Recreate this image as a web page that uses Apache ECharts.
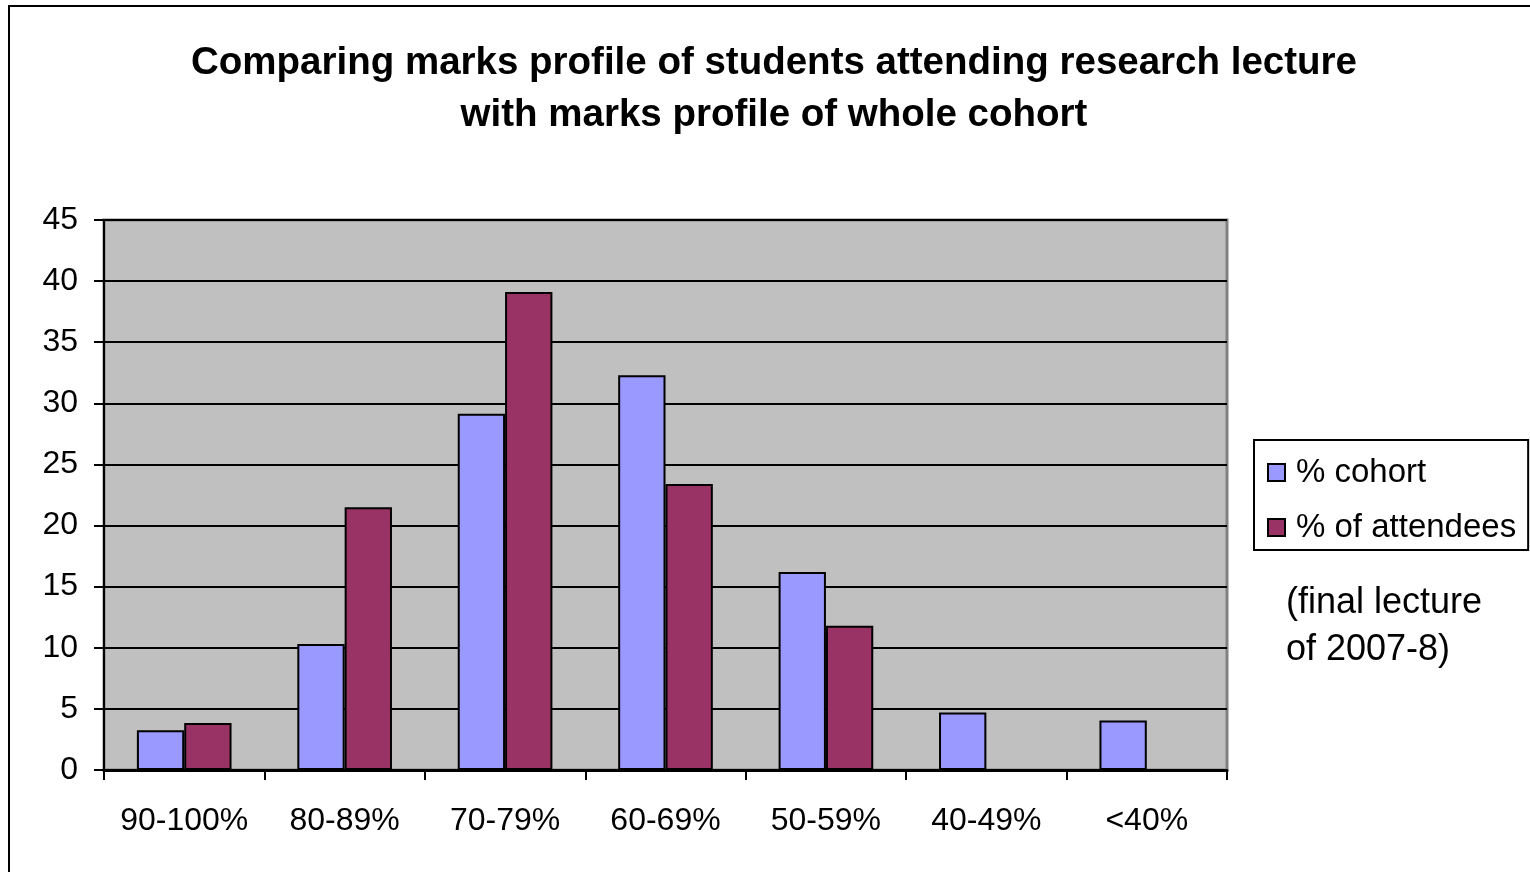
<!DOCTYPE html>
<html>
<head>
<meta charset="utf-8">
<title>Marks profile</title>
<style>
  html, body { margin: 0; padding: 0; background: #fff; }
  #main { width: 1530px; height: 872px; }
</style>
</head>
<body>
<div id="main"></div>
<script src="https://cdn.jsdelivr.net/npm/echarts@6/dist/echarts.min.js"></script>
<script>
var categories = ['90-100%', '80-89%', '70-79%', '60-69%', '50-59%', '40-49%', '<40%'];
var cohort = [3.25, 10.3, 29.15, 32.3, 16.2, 4.7, 4.05];
var attendees = [3.85, 21.5, 39.1, 23.4, 11.8, 0, 0];
var seriesNames = ['% cohort', '% of attendees'];
var titleText = 'Comparing marks profile of students attending research lecture\nwith marks profile of whole cohort';
var noteText = '(final lecture\nof 2007-8)';

var font = '"Liberation Sans", Arial, sans-serif';
var chart = echarts.init(document.getElementById('main'));

chart.setOption({
    animation: false,
    textStyle: { fontFamily: font },
    title: {
        text: titleText,
        left: 769,
        textAlign: 'center',
        top: 32,
        textStyle: { fontSize: 38.5, fontWeight: 'bold', color: '#000', lineHeight: 52, fontFamily: font }
    },
    legend: {
        orient: 'vertical',
        left: 1254,
        top: 440,
        padding: [16, 12, 6, 13],
        itemGap: 22,
        itemWidth: 17,
        itemHeight: 17,
        icon: 'rect',
        borderColor: '#000',
        borderWidth: 2,
        backgroundColor: '#fff',
        textStyle: { fontSize: 33, color: '#000', fontFamily: font, padding: [0, 0, 0, 6] },
        itemStyle: { borderColor: '#000', borderWidth: 2 },
        data: seriesNames
    },
    grid: {
        left: 104,
        top: 220,
        width: 1123,
        height: 550,
        show: true,
        backgroundColor: '#c0c0c0',
        borderColor: '#808080',
        borderWidth: 3
    },
    xAxis: {
        type: 'category',
        data: categories,
        axisLine: { lineStyle: { color: '#000', width: 3 } },
        axisTick: { show: true, interval: 0, length: 10, lineStyle: { color: '#000', width: 2 } },
        axisLabel: { interval: 0, fontSize: 32, color: '#000', margin: 35, fontFamily: font }
    },
    yAxis: {
        type: 'value',
        min: 0,
        max: 45,
        interval: 5,
        axisLine: { show: true, lineStyle: { color: '#000', width: 2 } },
        axisTick: { show: true, length: 10, lineStyle: { color: '#000', width: 2 } },
        axisLabel: { fontSize: 32, color: '#000', margin: 26, fontFamily: font },
        splitLine: { show: true, lineStyle: { color: '#000', width: 2 } }
    },
    series: [
        {
            name: seriesNames[0],
            type: 'bar',
            data: cohort,
            barGap: '0%',
            barCategoryGap: '41%',
            itemStyle: { color: '#9999ff', borderColor: '#000', borderWidth: 2 }
        },
        {
            name: seriesNames[1],
            type: 'bar',
            data: attendees,
            itemStyle: { color: '#993366', borderColor: '#000', borderWidth: 2 }
        }
    ],
    graphic: [
        {
            type: 'rect',
            shape: { x: 9, y: 6, width: 1540, height: 900 },
            style: { fill: 'none', stroke: '#000', lineWidth: 2 },
            silent: true
        },
        {
            type: 'text',
            left: 1286,
            top: 580,
            style: { text: noteText, fontSize: 36, fill: '#000', fontFamily: font, lineHeight: 47 }
        }
    ]
});
</script>
</body>
</html>
